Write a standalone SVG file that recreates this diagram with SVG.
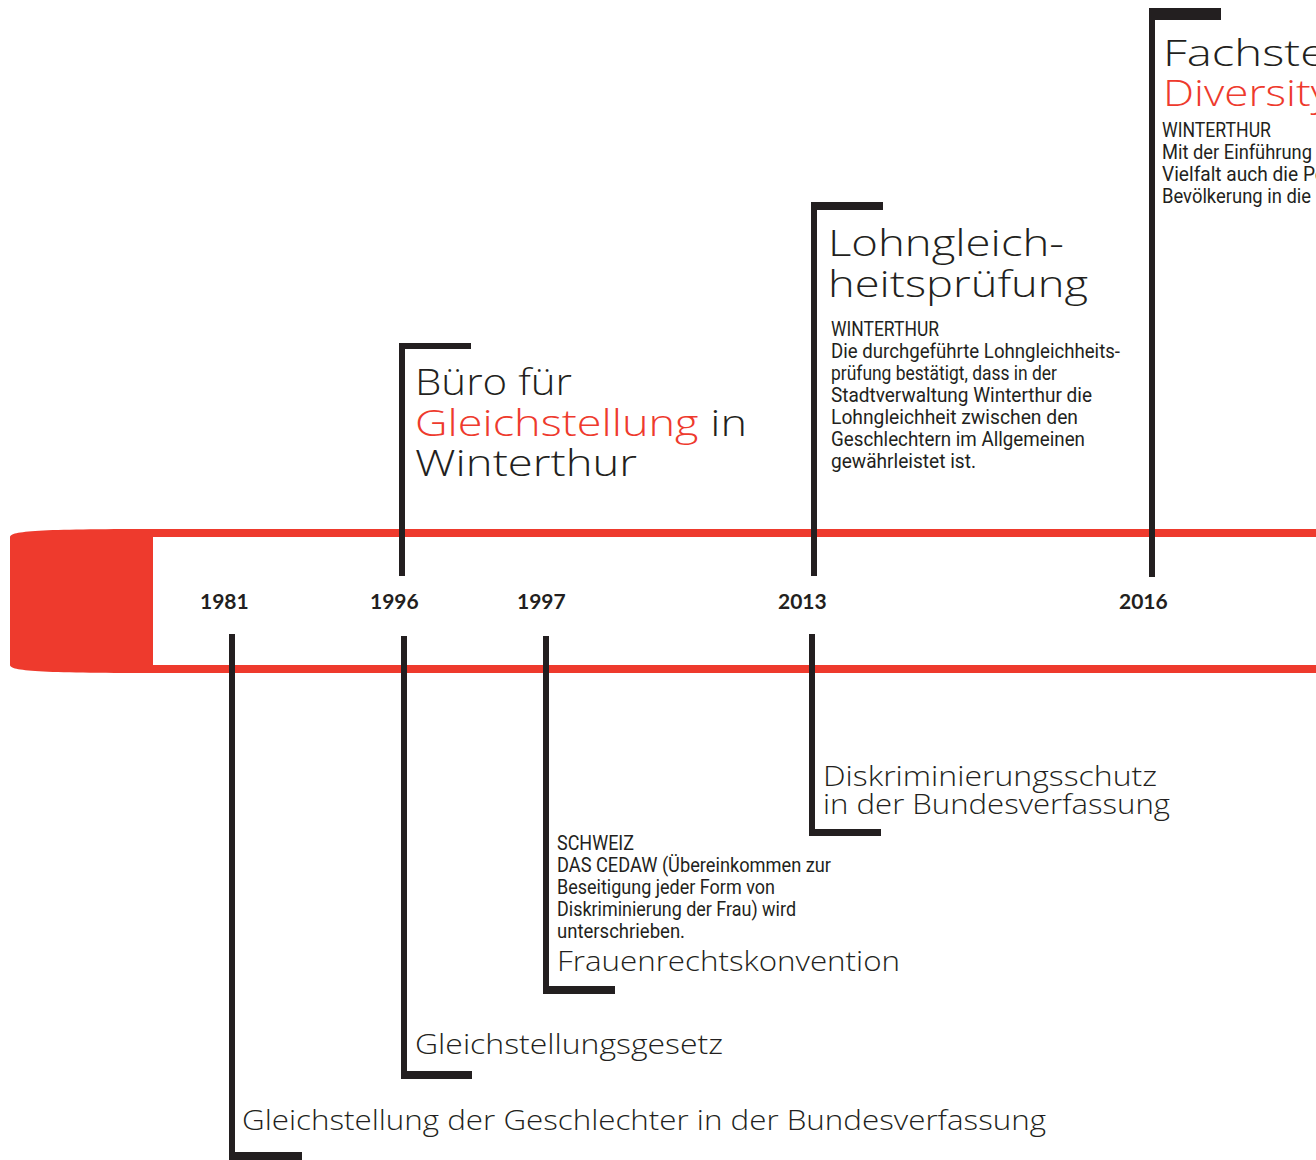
<svg xmlns="http://www.w3.org/2000/svg" width="1316" height="1160" viewBox="0 0 1316 1160">
<style>
.red{fill:#EE3A2D}
.bar{fill:#231F20}
.year{font-family:Lato,"Liberation Sans",sans-serif;font-weight:700;font-size:21px;fill:#231F20}
.big{font-family:"Open Sans","Noto Sans",sans-serif;font-weight:300;font-size:37px;fill:#231F20}
.mid{font-family:"Open Sans","Noto Sans",sans-serif;font-weight:300;font-size:27px;fill:#231F20}
.sm{font-family:Roboto,"Liberation Sans",sans-serif;font-weight:400;font-size:20px;fill:#231F20}
.hl{fill:#EE3A2D}
</style>
<rect width="1316" height="1160" fill="#fff"/>
<g id="timeline">
<path class="red" d="M10 537 C 10 531, 40 529, 153 529 L 153 673 C 40 673, 10 671, 10 665 Z"/>
<rect class="red" x="153" y="529" width="1163" height="8"/>
<rect class="red" x="153" y="665" width="1163" height="8"/>
</g>
<g id="connectors">
<rect class="bar" x="229" y="634" width="6" height="526"/>
<rect class="bar" x="229" y="1152" width="73" height="8"/>
<rect class="bar" x="399" y="343" width="6" height="233"/>
<rect class="bar" x="399" y="343" width="72" height="6"/>
<rect class="bar" x="401" y="636" width="6" height="443"/>
<rect class="bar" x="401" y="1071" width="71" height="8"/>
<rect class="bar" x="543" y="636" width="6" height="358"/>
<rect class="bar" x="543" y="986" width="72" height="8"/>
<rect class="bar" x="811" y="202" width="6" height="374"/>
<rect class="bar" x="811" y="202" width="72" height="8"/>
<rect class="bar" x="809" y="634" width="6" height="202"/>
<rect class="bar" x="809" y="829" width="72" height="7"/>
<rect class="bar" x="1149" y="8" width="6" height="569"/>
<rect class="bar" x="1149" y="8" width="72" height="12"/>
</g>
<g id="years">
<text class="year" x="200" y="609">1981</text>
<text class="year" x="370" y="609">1996</text>
<text class="year" x="517" y="609">1997</text>
<text class="year" x="778" y="609">2013</text>
<text class="year" x="1119" y="609">2016</text>
</g>
<g id="node-1981">
<text class="mid" x="242" y="1130" textLength="804" lengthAdjust="spacingAndGlyphs">Gleichstellung der Geschlechter in der Bundesverfassung</text>
</g>
<g id="node-1996-buero">
<text class="big" x="415" y="395" textLength="157" lengthAdjust="spacingAndGlyphs">Büro für</text>
<text class="big" x="415" y="435.5" textLength="332" lengthAdjust="spacingAndGlyphs"><tspan class="hl">Gleichstellung</tspan> in</text>
<text class="big" x="415" y="476" textLength="222" lengthAdjust="spacingAndGlyphs">Winterthur</text>
</g>
<g id="node-1996-gesetz">
<text class="mid" x="415" y="1054" textLength="308" lengthAdjust="spacingAndGlyphs">Gleichstellungsgesetz</text>
</g>
<g id="node-1997">
<text class="sm" x="557" y="850" textLength="77" lengthAdjust="spacingAndGlyphs">SCHWEIZ</text>
<text class="sm" x="557" y="872" textLength="274" lengthAdjust="spacingAndGlyphs">DAS CEDAW (Übereinkommen zur</text>
<text class="sm" x="557" y="894" textLength="218" lengthAdjust="spacingAndGlyphs">Beseitigung jeder Form von</text>
<text class="sm" x="557" y="916" textLength="239" lengthAdjust="spacingAndGlyphs">Diskriminierung der Frau) wird</text>
<text class="sm" x="557" y="938" textLength="128" lengthAdjust="spacingAndGlyphs">unterschrieben.</text>
<text class="mid" x="557" y="971" textLength="343" lengthAdjust="spacingAndGlyphs">Frauenrechtskonvention</text>
</g>
<g id="node-2013-lohn">
<text class="big" x="828" y="256" textLength="236" lengthAdjust="spacingAndGlyphs">Lohngleich-</text>
<text class="big" x="828" y="297" textLength="260" lengthAdjust="spacingAndGlyphs">heitsprüfung</text>
<text class="sm" x="831" y="336" textLength="108" lengthAdjust="spacingAndGlyphs">WINTERTHUR</text>
<text class="sm" x="831" y="358" textLength="289" lengthAdjust="spacingAndGlyphs">Die durchgeführte Lohngleichheits-</text>
<text class="sm" x="831" y="380" textLength="226" lengthAdjust="spacingAndGlyphs">prüfung bestätigt, dass in der</text>
<text class="sm" x="831" y="402" textLength="261" lengthAdjust="spacingAndGlyphs">Stadtverwaltung Winterthur die</text>
<text class="sm" x="831" y="424" textLength="247" lengthAdjust="spacingAndGlyphs">Lohngleichheit zwischen den</text>
<text class="sm" x="831" y="446" textLength="254" lengthAdjust="spacingAndGlyphs">Geschlechtern im Allgemeinen</text>
<text class="sm" x="831" y="468" textLength="145" lengthAdjust="spacingAndGlyphs">gewährleistet ist.</text>
</g>
<g id="node-2013-schutz">
<text class="mid" x="823" y="786" textLength="334" lengthAdjust="spacingAndGlyphs">Diskriminierungsschutz</text>
<text class="mid" x="823" y="814" textLength="347" lengthAdjust="spacingAndGlyphs">in der Bundesverfassung</text>
</g>
<g id="node-2016">
<text class="big" transform="translate(1163,66) scale(1.28,1)">Fachstelle</text>
<text class="big hl" transform="translate(1163,106) scale(1.19,1)">Diversity</text>
<text class="sm" x="1162" y="137" textLength="109" lengthAdjust="spacingAndGlyphs">WINTERTHUR</text>
<text class="sm" x="1162" y="159" textLength="150" lengthAdjust="spacingAndGlyphs">Mit der Einführung</text>
<text class="sm" x="1162" y="181" textLength="163" lengthAdjust="spacingAndGlyphs">Vielfalt auch die Pe</text>
<text class="sm" x="1162" y="203" textLength="149" lengthAdjust="spacingAndGlyphs">Bevölkerung in die</text>
</g>
</svg>
